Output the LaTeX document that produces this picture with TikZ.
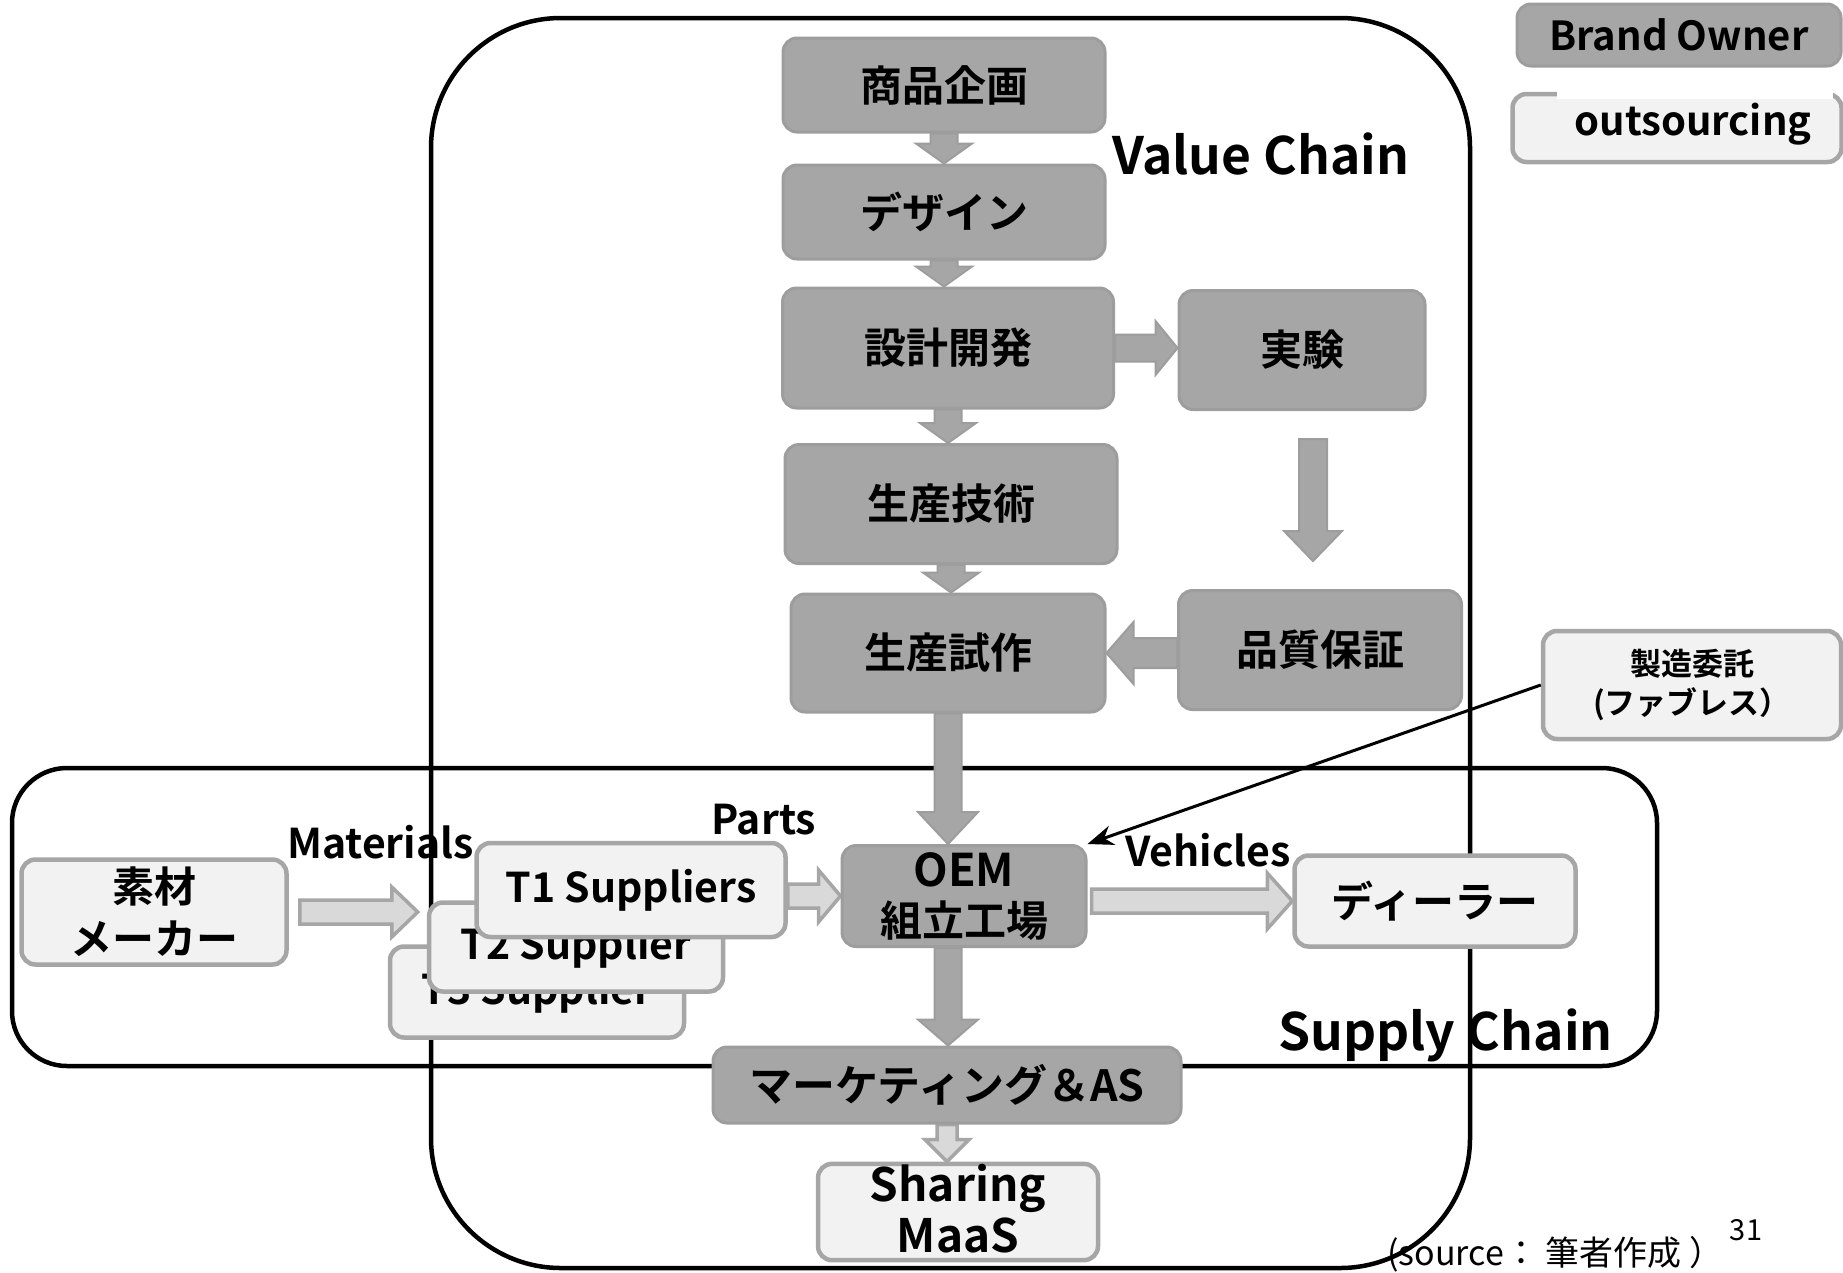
\documentclass[tikz,border=0pt]{standalone}
\usepackage{fontspec}
\setmainfont{Noto Sans CJK JP}[BoldFont={Noto Sans CJK JP Bold}]
\usetikzlibrary{calc,arrows.meta}

\definecolor{boxgray}{RGB}{166,166,166}
\definecolor{boxedge}{RGB}{157,157,157}
\definecolor{paleface}{RGB}{242,242,242}
\definecolor{arrowpale}{RGB}{217,217,217}

\pgfdeclarelayer{frames}
\pgfdeclarelayer{arrows}
\pgfsetlayers{frames,arrows,main}

\tikzset{every picture/.style={line width=0.75pt}}
\tikzset{
  inhouse/.style={rectangle, rounded corners=14, fill=boxgray, draw=boxedge, line width=3, inner sep=0, align=center, font=\bfseries\fontsize{42}{50}\selectfont},
  outside/.style={inhouse, fill=paleface, draw=boxgray, line width=4.5},
  chainframe/.style={draw=black, line width=4.5},
  darkarrow/.style={fill=boxgray, draw=boxedge, line width=2, line join=miter},
  palearrow/.style={fill=arrowpale, draw=boxgray, line width=3.5, line join=miter},
  flowlabel/.style={anchor=base west, inner sep=0, font=\bfseries\fontsize{41}{50}\selectfont},
  chainlabel/.style={anchor=base west, inner sep=0, font=\bfseries\fontsize{51.5}{60}\selectfont},
  latinbox/.style={font=\bfseries\fontsize{41}{50}\selectfont}
}

% block arrow: [style]{from}{to}{half shaft}{half head}{head length}
\newcommand{\blockarrow}[6][]{%
  \coordinate (ba-s) at #2; \coordinate (ba-e) at #3;
  \coordinate (ba-h) at ($(ba-e)!#6!(ba-s)$);
  \draw [#1] ($(ba-s)!#4!90:(ba-e)$) -- ($(ba-h)!#4!90:(ba-e)$) -- ($(ba-h)!#5!90:(ba-e)$) -- (ba-e) -- ($(ba-h)!#5!-90:(ba-e)$) -- ($(ba-h)!#4!-90:(ba-e)$) -- ($(ba-s)!#4!-90:(ba-e)$) -- cycle ;}

\begin{document}
\begin{tikzpicture}[x=1pt,y=1pt,yscale=-1,xscale=1]
\useasboundingbox (0,0) rectangle (1843,1272);

%Rounded Rect [value chain]
\begin{pgfonlayer}{frames}
\draw [chainframe, rounded corners=130] (431,18) rectangle (1470,1268) ;
%Rounded Rect [supply chain]
\draw [chainframe, rounded corners=55] (12,768) rectangle (1657,1066) ;
\end{pgfonlayer}

%Shape: value chain boxes
\node [inhouse, minimum width=322, minimum height=94] (plan) at (944,85) {商品企画};
\node [inhouse, minimum width=322, minimum height=94] (design) at (944,212) {デザイン};
\node [inhouse, minimum width=331, minimum height=120] (develop) at (948,348) {設計開発};
\node [inhouse, minimum width=246, minimum height=119] (testing) at (1302,350) {実験};
\node [inhouse, minimum width=332, minimum height=119] (prodeng) at (951,504) {生産技術};
\node [inhouse, minimum width=314, minimum height=118] (trial) at (948,653) {生産試作};
\node [inhouse, minimum width=283, minimum height=119] (quality) at (1320,650) {品質保証};
\node [inhouse, minimum width=244, minimum height=101] (oem) at (964,896) {{\fontsize{45}{50}\selectfont OEM}\\組立工場};
\node [inhouse, font=\bfseries\fontsize{43}{50}\selectfont, minimum width=468, minimum height=76] (marketing) at (947,1085) {マーケティング＆AS};
\node [outside, font=\bfseries\fontsize{46}{50}\selectfont, minimum width=280, minimum height=92] (maas) at (958,1212) {\raisebox{9pt}{Sharing}\\\raisebox{8pt}{MaaS}};

%Shape: supply chain boxes
\node [outside, font=\bfseries\fontsize{42}{52}\selectfont, minimum width=265, minimum height=105] (maker) at (154,912) {素材\\メーカー};
\node [outside, latinbox, minimum width=294, minimum height=91] (tier3) at (537,992) {T3 Supplier};
\node [outside, latinbox, minimum width=294, minimum height=89] (tier2) at (576,947) {T2 Supplier};
\node [outside, latinbox, minimum width=309, minimum height=94] (tier1) at (631,890) {T1 Suppliers};
\node [outside, minimum width=281, minimum height=91] (dealer) at (1435,901) {ディーラー};
\node [outside, font=\bfseries\fontsize{31}{39}\selectfont, minimum width=298, minimum height=108] (fabless) at (1692,685) {製造委託\\(ファブレス）};

%Shape: legend
\node [inhouse, font=\bfseries\fontsize{40}{50}\selectfont, minimum width=324, minimum height=62] (brand) at (1679,35) {Brand Owner};
\node [outside, minimum width=329, minimum height=68] (outsrc) at (1677,128) {};
\fill [white] (1557,82) rectangle (1833,99) ;

%Block arrows
\begin{pgfonlayer}{arrows}
\blockarrow[darkarrow]{(plan.south)}{(design.north)}{13.5pt}{28pt}{20pt}
\blockarrow[darkarrow]{(design.south)}{(design.south |- develop.north)}{13.5pt}{28pt}{20pt}
\blockarrow[darkarrow]{(develop.south)}{(develop.south |- prodeng.north)}{13.5pt}{28pt}{20pt}
\blockarrow[darkarrow]{(prodeng.south)}{(prodeng.south |- trial.north)}{13.5pt}{28pt}{20pt}
\blockarrow[darkarrow]{(develop.east)}{(develop.east -| testing.west)}{13.5pt}{27pt}{22pt}
\blockarrow[darkarrow]{($(testing.south)+(11,28)$)}{($(testing.south)+(11,150)$)}{14pt}{29pt}{30pt}
\blockarrow[darkarrow]{(quality.west |- trial.east)}{(trial.east)}{15pt}{31pt}{27pt}
\blockarrow[darkarrow]{(trial.south)}{(trial.south |- oem.north)}{13.5pt}{30pt}{32pt}
\blockarrow[darkarrow]{(oem.south -| trial.south)}{(marketing.north -| trial.south)}{13.5pt}{30pt}{26pt}
\blockarrow[palearrow]{(marketing.south)}{(marketing.south |- maas.north)}{10pt}{22pt}{22pt}
\blockarrow[palearrow]{($(maker.east)+(11,0)$)}{($(maker.east -| tier2.west)+(-9,0)$)}{12pt}{25pt}{26pt}
\blockarrow[palearrow]{(oem.west -| tier1.east)}{(oem.west)}{12pt}{26pt}{22pt}
\blockarrow[palearrow]{($(dealer.west -| oem.east)+(4,0)$)}{(dealer.west)}{12pt}{28pt}{25pt}
\end{pgfonlayer}

%Straight Lines [contract manufacturing]
\draw [-{Stealth[length=26pt,width=20pt]}, line width=3] (fabless.west) -- (oem.north east) ;

% Text Node
\node [chainlabel] (vclabel) at (1112,174) {Value Chain};
% Text Node
\node [chainlabel] (sclabel) at (1278,1050) {Supply Chain};
% Text Node
\node [flowlabel] (matlabel) at (287,858) {Materials};
% Text Node
\node [flowlabel] (partlabel) at (711,834) {Parts};
% Text Node
\node [flowlabel] (vehlabel) at (1125,866) {Vehicles};
% Text Node
\node [inner sep=0, font=\bfseries\fontsize{40}{50}\selectfont] (outtext) at (1693,124) {outsourcing};
% Text Node
\node [anchor=base west, inner sep=0, font=\fontsize{34}{40}\selectfont] (source) at (1387,1265) {(source：\ 筆者作成 ）};
% Text Node
\node [inner sep=0, font=\fontsize{29}{34}\selectfont] (pageno) at (1746,1230) {31};

\end{tikzpicture}
\end{document}
